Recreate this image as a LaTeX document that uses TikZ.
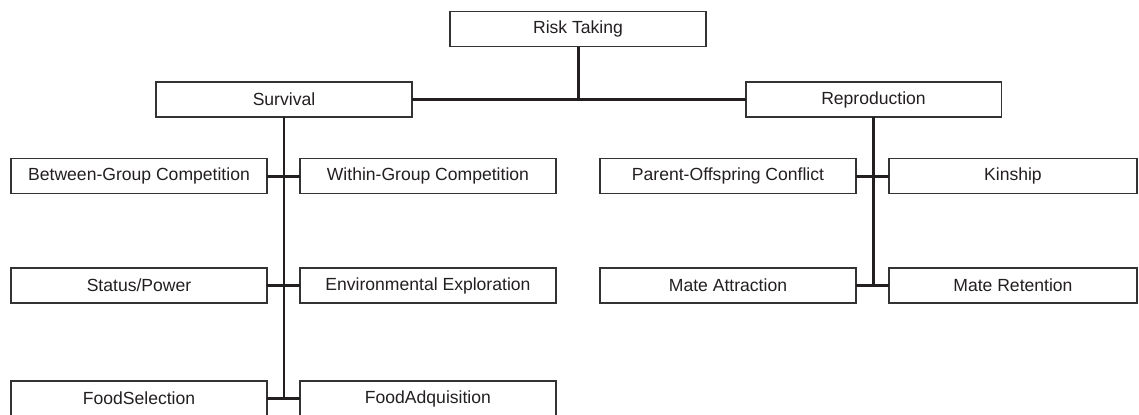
\documentclass[tikz,border=0pt]{standalone}
\usepackage{fontspec}
\setmainfont{Liberation Sans}
\usepackage{tikz}
\usetikzlibrary{positioning,calc}
\definecolor{ink}{HTML}{231F20}
\definecolor{edge}{HTML}{333333}

\begin{document}
\begin{tikzpicture}[x=0.02cm,y=-0.02cm,
        cat/.style={draw=edge,line width=1.1pt,minimum width=5.12cm,
                    minimum height=0.7cm,inner sep=0pt,outer sep=0pt,
                    font=\fontsize{10}{12}\selectfont\color{ink}},
        link/.style={draw=ink,line width=1.7pt}]
      \useasboundingbox (0,0) rectangle (1139,414);
      \node[cat] (risk) at (578,29) {Risk Taking};
      \node[cat] (surv) at (284,99.5) {Survival};
      \node[cat] (repr) at (873.5,99.5) {Reproduction};
      % survival side
      \node[cat] (bgc) at (139,176) {Between-Group Competition};
      \node[cat,right=0.66cm of bgc] (wgc) {Within-Group Competition};
      \node[cat] (stat) at (139,285.5) {Status/Power};
      \node[cat,right=0.66cm of stat] (envx) {Environmental Exploration};
      \node[cat] (fsel) at (139,398.5) {FoodSelection};
      \node[cat,right=0.66cm of fsel] (fadq) {FoodAdquisition};
      % reproduction side
      \node[cat] (poc) at (728,176) {Parent-Offspring Conflict};
      \node[cat,right=0.66cm of poc,minimum width=4.96cm] (kin) {Kinship};
      \node[cat] (matt) at (728,285.5) {Mate Attraction};
      \node[cat,right=0.66cm of matt,minimum width=4.96cm] (mret) {Mate Retention};
      \draw[link] (risk.south) -- (risk.south |- surv.east);
      \draw[link] (surv.east) -- (repr.west);
      \draw[link] (surv.south) -- (surv.south |- fsel.east);
      \draw[link] (bgc.east) -- (wgc.west);
      \draw[link] (stat.east) -- (envx.west);
      \draw[link] (fsel.east) -- (fadq.west);
      \draw[link] (repr.south) -- (repr.south |- matt.east);
      \draw[link] (poc.east) -- (kin.west);
      \draw[link] (matt.east) -- (mret.west);
    \end{tikzpicture}
\end{document}
